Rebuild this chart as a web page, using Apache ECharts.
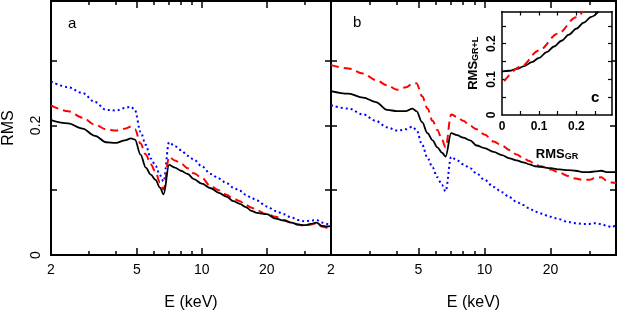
<!DOCTYPE html>
<html><head><meta charset="utf-8">
<script src="https://cdn.jsdelivr.net/npm/echarts@6/dist/echarts.min.js"></script>
<style>html,body{margin:0;padding:0;background:#fff}#c{width:618px;height:316px}</style>
</head><body><div id="c"></div>
<script>
// Energy grid (keV)
const energy = [2, 2.4, 2.8, 3.2, 3.6, 4.0, 4.4, 4.7, 4.9, 5.2, 5.5, 5.8, 6.1, 6.4, 6.65, 7.05, 7.5, 8, 8.6, 9.2, 10, 11, 12, 13, 14, 15, 16, 17, 18, 20, 22, 24, 26, 28, 30, 32, 34, 36, 38, 39.7];
// Panel a
const aSolid  = [0.208,0.203,0.195,0.184,0.174,0.173,0.177,0.180,0.178,0.155,0.135,0.124,0.116,0.104,0.0935,0.139,0.135,0.130,0.125,0.117,0.110,0.103,0.096,0.090,0.083,0.079,0.074,0.068,0.065,0.063,0.056,0.053,0.050,0.047,0.046,0.048,0.050,0.045,0.044,0.045];
const aDashed = [0.231,0.222,0.212,0.201,0.194,0.192,0.195,0.198,0.194,0.172,0.155,0.140,0.128,0.112,0.101,0.1515,0.146,0.141,0.134,0.126,0.119,0.106,0.100,0.093,0.087,0.083,0.077,0.073,0.069,0.063,0.059,0.054,0.050,0.047,0.045,0.047,0.049,0.044,0.042,0.041];
const aDotted = [0.268,0.259,0.250,0.236,0.224,0.223,0.227,0.229,0.223,0.190,0.170,0.149,0.138,0.123,0.1136,0.174,0.168,0.162,0.153,0.147,0.137,0.125,0.118,0.111,0.104,0.099,0.093,0.088,0.084,0.075,0.068,0.063,0.058,0.054,0.052,0.053,0.054,0.050,0.048,0.047];
// Panel b
const bSolid  = [0.253,0.249,0.243,0.236,0.224,0.222,0.222,0.226,0.222,0.205,0.188,0.177,0.166,0.158,0.152,0.188,0.185,0.181,0.177,0.169,0.165,0.159,0.154,0.149,0.146,0.143,0.140,0.137,0.136,0.134,0.132,0.131,0.130,0.128,0.128,0.129,0.130,0.128,0.128,0.128];
const bDashed = [0.293,0.288,0.280,0.270,0.262,0.255,0.259,0.264,0.265,0.245,0.226,0.207,0.193,0.178,0.166,0.217,0.213,0.207,0.1995,0.194,0.186,0.175,0.169,0.162,0.155,0.150,0.145,0.140,0.137,0.132,0.127,0.122,0.118,0.116,0.116,0.119,0.120,0.115,0.112,0.111];
const bDotted = [0.231,0.226,0.217,0.207,0.197,0.192,0.194,0.198,0.193,0.170,0.150,0.135,0.120,0.108,0.0985,0.1515,0.146,0.140,0.134,0.126,0.116,0.105,0.097,0.089,0.082,0.077,0.072,0.067,0.064,0.059,0.055,0.051,0.049,0.048,0.048,0.049,0.048,0.045,0.043,0.047];
// Inset c
const cSolidX = [0, 0.02, 0.04, 0.06, 0.08, 0.1, 0.12, 0.14, 0.16, 0.18, 0.2, 0.22, 0.24, 0.26];
const cSolidY = [0.122, 0.124, 0.129, 0.137, 0.148, 0.160, 0.176, 0.192, 0.208, 0.225, 0.242, 0.259, 0.275, 0.29];
const cDashedX = [0.006, 0.05, 0.1, 0.15, 0.2, 0.218];
const cDashedY = [0.095, 0.135, 0.181, 0.228, 0.274, 0.291];
// Ticks and labels
const xMajor = [2, 5, 10, 20];
const xMinor = [3, 4, 6, 7, 8, 9, 30];
const yTicks = [0.1, 0.2, 0.3];
const yLabels = [0, 0.2];
const cTicks = [0.05, 0.1, 0.15, 0.2, 0.25];
const cLabels = [0, 0.1, 0.2];

const FONT = 'Liberation Sans';
const pair = (xs, ys) => xs.map((x, i) => [x, ys[i]]);

function xAx(grid, pos, ticks, len, opts) {
  opts = opts || {};
  return Object.assign({
    type: 'log', logBase: 10, gridIndex: grid, min: 2, max: 39.7, position: pos,
    axisLine: { show: opts.line !== false, onZero: false, lineStyle: { color: '#000', width: 2 } },
    axisTick: { show: true, inside: true, length: len, customValues: ticks, lineStyle: { color: '#000', width: 1.5 } },
    axisLabel: opts.labels ? { show: true, customValues: opts.labels, color: '#000', fontFamily: FONT, fontSize: 14, margin: 8 } : { show: false },
    splitLine: { show: false }, minorTick: { show: false }, minorSplitLine: { show: false }
  }, opts.extra || {});
}
function yAx(grid, pos, opts) {
  opts = opts || {};
  return Object.assign({
    type: 'value', gridIndex: grid, min: 0, max: 0.392, position: pos,
    axisLine: { show: true, onZero: false, lineStyle: { color: '#000', width: 2 } },
    axisTick: { show: true, inside: true, length: 6, customValues: yTicks, lineStyle: { color: '#000', width: 1.5 } },
    axisLabel: opts.labels ? { show: true, customValues: opts.labels, rotate: 90, color: '#000', fontFamily: FONT, fontSize: 14, margin: 8 } : { show: false },
    splitLine: { show: false }
  }, opts.extra || {});
}
function cAx(dim, pos, labels, extra) {
  const isX = dim === 'x';
  return Object.assign({
    type: 'value', gridIndex: 2, min: 0, max: isX ? 0.296 : 0.29, position: pos,
    axisLine: { show: true, onZero: false, lineStyle: { color: '#000', width: 1.5 } },
    axisTick: { show: true, inside: true, length: 4, customValues: cTicks, lineStyle: { color: '#000', width: 1.2 } },
    axisLabel: labels ? { show: true, customValues: labels, rotate: isX ? 0 : 90, color: '#000', fontFamily: FONT, fontWeight: 'bold', fontSize: 12, margin: isX ? 6 : 4 } : { show: false },
    splitLine: { show: false }
  }, extra || {});
}

const xName = { name: 'E (keV)', nameLocation: 'middle', nameGap: 40, nameTextStyle: { color: '#000', fontFamily: FONT, fontSize: 16 } };
const subRich = {
  m: { fontFamily: FONT, fontWeight: 'bold', fontSize: 13, lineHeight: 16, verticalAlign: 'bottom', color: '#000' },
  s: { fontFamily: FONT, fontWeight: 'bold', fontSize: 9, lineHeight: 10, verticalAlign: 'bottom', color: '#000' }
};

const solidStyle = { color: '#000', width: 1.8, type: 'solid' };
const dashStyle = { color: '#ff0000', width: 2, type: [8, 5] };
const dotStyle = { color: '#0000ff', width: 2, type: [2, 3] };
function ser(xi, yi, data, style, z) {
  return { type: 'line', xAxisIndex: xi, yAxisIndex: yi, data: data, showSymbol: false, symbol: 'none',
    smooth: 0.35, smoothMonotone: 'x', lineStyle: style, itemStyle: { color: style.color }, z: z || 3, silent: true, animation: false };
}

const option = {
  animation: false,
  grid: [
    { left: 47, top: 1, width: 284, height: 259 },
    { left: 331, top: 1, width: 285, height: 259 },
    { left: 502, top: 11.5, width: 110, height: 103.5, show: true, backgroundColor: '#fff', borderWidth: 0, z: 5 }
  ],
  xAxis: [
    xAx(0, 'bottom', xMajor, 7, { labels: xMajor, extra: xName }),
    xAx(0, 'bottom', xMinor, 4, { line: false }),
    xAx(0, 'top', xMajor, 7, {}),
    xAx(0, 'top', xMinor, 4, { line: false }),
    xAx(1, 'bottom', xMajor, 7, { labels: xMajor, extra: xName }),
    xAx(1, 'bottom', xMinor, 4, { line: false }),
    xAx(1, 'top', xMajor, 7, {}),
    xAx(1, 'top', xMinor, 4, { line: false }),
    cAx('x', 'bottom', cLabels, { z: 6, name: '{m|RMS}{s|GR}', nameLocation: 'middle', nameGap: 30, nameTextStyle: { rich: subRich } }),
    cAx('x', 'top', null, { z: 6 })
  ],
  yAxis: [
    yAx(0, 'left', { labels: yLabels, extra: { name: 'RMS', nameLocation: 'middle', nameGap: 34, nameRotate: 90, nameTextStyle: { color: '#000', fontFamily: FONT, fontSize: 16 } } }),
    yAx(0, 'right', {}),
    yAx(1, 'left', {}),
    yAx(1, 'right', {}),
    cAx('y', 'left', cLabels, { z: 6, name: '{m|RMS}{s|GR+L}', nameLocation: 'middle', nameGap: 22, nameRotate: 90, nameTextStyle: { rich: subRich } }),
    cAx('y', 'right', null, { z: 6 })
  ],
  series: [
    ser(0, 0, pair(energy, aDotted), dotStyle),
    ser(0, 0, pair(energy, aDashed), dashStyle),
    ser(0, 0, pair(energy, aSolid), solidStyle),
    ser(4, 2, pair(energy, bDotted), dotStyle),
    ser(4, 2, pair(energy, bDashed), dashStyle),
    ser(4, 2, pair(energy, bSolid), solidStyle),
    ser(8, 4, pair(cSolidX, cSolidY), solidStyle, 7),
    ser(8, 4, pair(cDashedX, cDashedY), dashStyle, 7)
  ],
  graphic: [
    { type: 'text', left: 68, top: 16, style: { text: 'a', fontFamily: FONT, fontSize: 15, fill: '#000' } },
    { type: 'text', left: 353, top: 15, style: { text: 'b', fontFamily: FONT, fontSize: 15, fill: '#000' } },
    { type: 'text', left: 591, top: 90, z: 10, style: { text: 'c', fontFamily: FONT, fontSize: 15, fontWeight: 'bold', fill: '#000' } }
  ]
};
const chart = echarts.init(document.getElementById('c'), null, { renderer: 'canvas' });
chart.setOption(option);
</script>
</body></html>
